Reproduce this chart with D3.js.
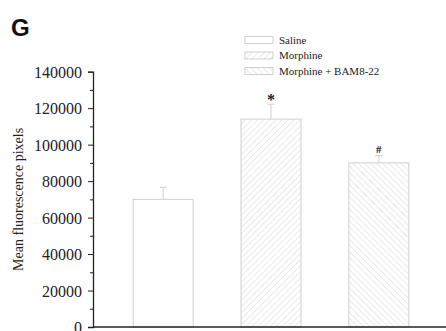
<!DOCTYPE html>
<html>
<head>
<meta charset="utf-8">
<script src="https://cdn.jsdelivr.net/npm/d3@7"></script>
<style>
  body { margin: 0; background: #fff; }
  svg { display: block; }
</style>
</head>
<body>
<svg id="chart" width="446" height="331"></svg>
<script>
const groups = ["Saline", "Morphine", "Morphine + BAM8-22"];
const means = [70000, 114000, 90000];
const errors = [6600, 8200, 4000];
const marks = ["", "*", "#"];
const yTicks = [0, 20000, 40000, 60000, 80000, 100000, 120000, 140000];

const svg = d3.select("#chart");
const gray = "#cfcfcf";

// hatch patterns
const defs = svg.append("defs");
function hatch(id, dir) {
  const p = defs.append("pattern").attr("id", id)
    .attr("patternUnits", "userSpaceOnUse").attr("width", 4.3).attr("height", 4.3)
    .attr("patternTransform", `rotate(${dir})`);
  p.append("rect").attr("width", 4.3).attr("height", 4.3).attr("fill", "#fff");
  p.append("line").attr("x1", 0).attr("y1", 0).attr("x2", 0).attr("y2", 4.3)
    .attr("stroke", "#d6d6d6").attr("stroke-width", 1);
}
hatch("fwd", 45);
hatch("back", -45);
const fills = ["#fff", "url(#fwd)", "url(#back)"];

const x = d3.scaleBand().domain(groups).range([93, 449]).paddingInner(0.444).paddingOuter(0.373);
const y = d3.scaleLinear().domain([0, 140000]).range([327, 71.7]);

// panel letter
svg.append("text").attr("x", 11).attr("y", 36)
  .attr("font-family", "Liberation Sans, Arial, sans-serif").attr("font-weight", 700)
  .attr("font-size", 24).attr("fill", "#111").text("G");

// bars
svg.append("g").selectAll("rect").data(groups).enter().append("rect")
  .attr("x", d => x(d)).attr("width", x.bandwidth())
  .attr("y", (d, i) => y(means[i])).attr("height", (d, i) => y(0) - y(means[i]))
  .attr("fill", (d, i) => fills[i]).attr("stroke", gray).attr("stroke-width", 1);

// error bars
const eb = svg.append("g").attr("stroke", gray).attr("stroke-width", 1);
groups.forEach((d, i) => {
  const cx = x(d) + x.bandwidth() / 2;
  eb.append("line").attr("x1", cx).attr("x2", cx).attr("y1", y(means[i])).attr("y2", y(means[i] + errors[i]));
  eb.append("line").attr("x1", cx - 3.5).attr("x2", cx + 3.5).attr("y1", y(means[i] + errors[i])).attr("y2", y(means[i] + errors[i]));
});

// significance marks
svg.append("g").selectAll("text").data(groups).enter().append("text")
  .attr("x", d => x(d) + x.bandwidth() / 2)
  .attr("y", (d, i) => y(means[i] + errors[i]) - (i === 1 ? -1 : 3))
  .attr("text-anchor", "middle")
  .attr("font-family", "Liberation Serif, Times New Roman, serif")
  .attr("font-weight", 700)
  .attr("font-size", (d, i) => i === 1 ? 16 : 11)
  .attr("fill", "#222").text((d, i) => marks[i]);

// y axis
const yAxis = svg.append("g").attr("transform", "translate(93,0)")
  .call(d3.axisLeft(y).tickValues(yTicks).tickSize(5).tickPadding(6).tickFormat(d3.format("d")));
const minor = svg.append("g").attr("transform", "translate(93,0)")
  .call(d3.axisLeft(y).tickValues(d3.range(10000, 140000, 20000)).tickSize(3).tickFormat(""));
minor.select(".domain").remove();
[yAxis, minor].forEach(g => {
  g.selectAll("line").attr("stroke", "#222").attr("stroke-width", 1);
});
yAxis.select(".domain").attr("stroke", "#222").attr("stroke-width", 1.3);
yAxis.selectAll("text").attr("font-family", "Liberation Serif, Times New Roman, serif")
  .attr("font-size", 16).attr("fill", "#222").attr("dy", "0.35em");

// x axis line
svg.append("line").attr("x1", 93).attr("x2", 446).attr("y1", y(0)).attr("y2", y(0))
  .attr("stroke", "#222").attr("stroke-width", 1.3);

// y label
svg.append("text").attr("transform", `translate(23,${(y(0) + y(140000)) / 2}) rotate(-90)`)
  .attr("text-anchor", "middle")
  .attr("font-family", "Liberation Serif, Times New Roman, serif")
  .attr("font-size", 14).attr("fill", "#222").text("Mean fluorescence pixels");

// legend
const leg = svg.append("g");
groups.forEach((d, i) => {
  const ly = 40 + i * 15.5;
  leg.append("rect").attr("x", 245).attr("y", ly - 3.5).attr("width", 28).attr("height", 7)
    .attr("fill", fills[i]).attr("stroke", gray).attr("stroke-width", 1);
  leg.append("text").attr("x", 279).attr("y", ly).attr("dy", "0.35em")
    .attr("font-family", "Liberation Serif, Times New Roman, serif")
    .attr("font-size", 11).attr("fill", "#222").text(d);
});
</script>
</body>
</html>
